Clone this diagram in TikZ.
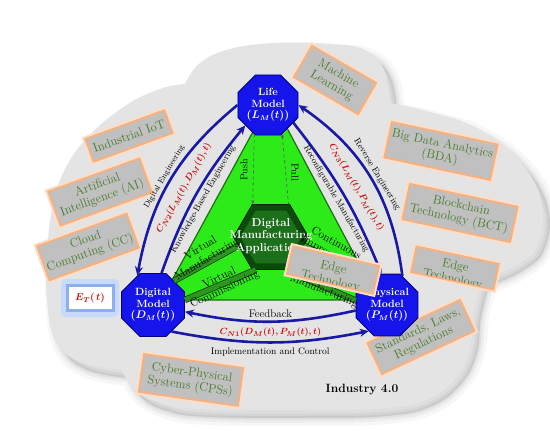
\documentclass[tikz,border=0pt]{standalone}
\usepackage{bm}
\usetikzlibrary{shapes.geometric,arrows.meta}
\definecolor{cloudgray}{RGB}{228,228,228}
\definecolor{boxgray}{RGB}{192,192,192}
\definecolor{glowA}{RGB}{252,222,200}
\definecolor{glowB}{RGB}{242,178,132}
\definecolor{tgreen}{RGB}{72,122,42}
\definecolor{octblue}{RGB}{20,20,235}
\definecolor{octdark}{RGB}{0,0,120}
\definecolor{arcblue}{RGB}{25,25,165}
\definecolor{trigreen}{RGB}{45,235,25}
\definecolor{triedge}{RGB}{30,110,20}
\definecolor{hexdark}{RGB}{10,75,10}
\definecolor{hexface}{RGB}{28,112,28}
\definecolor{stripecol}{RGB}{45,150,30}
\definecolor{redf}{RGB}{205,15,15}
\definecolor{etglowA}{RGB}{200,218,250}
\definecolor{etglowB}{RGB}{140,175,240}
\begin{document}
\begin{tikzpicture}[x=1pt,y=1pt,
  cloudpath/.style={insert path={
    plot[smooth,tension=0.7] coordinates {(122,-370) (80,-362) (55,-340) (47,-300) (47,-255) (50,-222)}
    -- plot[smooth,tension=0.7] coordinates {(50,-222) (60,-180) (85,-140) (125,-106) (160,-89) (185,-84)}
    -- plot[smooth,tension=0.7] coordinates {(185,-84) (200,-63) (230,-49) (275,-43) (330,-44) (365,-50) (384,-70) (390,-103)}
    -- plot[smooth,tension=0.7] coordinates {(390,-103) (430,-112) (475,-127) (517,-158) (541,-200) (538,-240) (517,-262) (482,-278)}
    -- plot[smooth,tension=0.7] coordinates {(482,-278) (474,-310) (470,-345) (455,-375) (425,-398) (380,-408) (300,-410) (200,-409) (160,-403) (135,-390) (122,-370)}
    -- cycle}},
  cbox/.style={fill=boxgray, draw=glowB, line width=2pt, preaction={draw=glowA, line width=6pt},
    text=tgreen, align=center, font=\fontsize{12.5}{13.5}\selectfont, inner sep=2pt},
  oct/.style={regular polygon, regular polygon sides=8, minimum size=58pt, fill=octblue,
    draw=octdark, line width=0.8pt, text=white, font=\bfseries\fontsize{10.5}{11.5}\selectfont,
    align=center, inner sep=0pt},
  octback/.style={regular polygon, regular polygon sides=8, minimum size=58pt, fill=octdark, inner sep=0pt},
  barc/.style={draw=arcblue, line width=2.6pt, -{Stealth[length=9pt,width=8pt]}},
  arclab/.style={font=\fontsize{9}{10}\selectfont, inner sep=0pt},
  redlab/.style={text=redf, font=\fontsize{9.5}{10}\selectfont, inner sep=0pt},
  stripeline/.style={draw=black!55!triedge, line width=0.7pt, double=stripecol, double distance=5pt},
  striplab/.style={font=\fontsize{11.5}{12.5}\selectfont, align=center, inner sep=0pt},
  pushline/.style={dashed, draw=black!65, line width=0.7pt},
]
\useasboundingbox (0,0) rectangle (550,-431);
% shadow
\begin{scope}[shift={(7,-8)}]
  \fill[black, opacity=0.10, cloudpath];
  \draw[black, opacity=0.03, line width=16pt, cloudpath];
  \draw[black, opacity=0.04, line width=9pt, cloudpath];
  \draw[black, opacity=0.05, line width=4pt, cloudpath];
\end{scope}
\fill[cloudgray, cloudpath];

% cloud boxes
\node[cbox, rotate=20, minimum width=84pt, minimum height=24pt] (iiot) at (129,-136) {Industrial IoT};
\node[cbox, rotate=20, minimum width=97pt, minimum height=36pt] (ai) at (100,-192) {Artificial\\Intelligence (AI)};
\node[cbox, rotate=20, minimum width=95pt, minimum height=36pt] (cc) at (88,-247) {Cloud\\Computing (CC)};
\node[cbox, rotate=-8, minimum width=100pt, minimum height=38pt] (cps) at (191,-380) {Cyber-Physical\\Systems (CPSs)};
\node[cbox, rotate=-30, minimum width=74pt, minimum height=36pt] (ml) at (335,-80) {Machine\\Learning};
\node[cbox, rotate=-12, minimum width=108pt, minimum height=36pt] (bda) at (441,-151) {Big Data Analytics\\(BDA)};
\node[cbox, rotate=-12, minimum width=110pt, minimum height=36pt] (bct) at (460,-213) {Blockchain\\Technology (BCT)};
\node[cbox, rotate=25, minimum width=102pt, minimum height=34pt] (slr) at (421,-337) {Standards, Laws,\\Regulations};
\begin{scope}[shift={(455,-268)}, rotate=-12, transform shape]
  \node[cbox, minimum width=84pt, minimum height=26pt] (edgeout) at (0,0) {};
  \begin{scope}
    \clip (-41,-12) rectangle (41,12);
    \node[text=tgreen, align=center, font=\fontsize{12.5}{13.5}\selectfont] (edgeouttxt) at (0,-5) {Edge\\Technology};
  \end{scope}
\end{scope}

% E_T box
\node[fill=etglowA, rounded corners=5pt, minimum width=58pt, minimum height=38pt] (etglow) at (90,-298) {};
\node[fill=white, draw=etglowB, line width=3pt, minimum width=46pt, minimum height=25pt, text=redf,
  font=\fontsize{10}{11}\selectfont] (et) at (90,-298) {$\bm{E_T(\,t)}$};

\node[font=\bfseries\fontsize{12}{13}\selectfont] (ind) at (362,-390) {Industry 4.0};

% green triangle
\fill[trigreen, draw=triedge, line width=1.2pt] (255,-128) -- (287,-128) -- (370,-284) -- (356,-300) -- (184,-300) -- (170,-284) -- cycle;

% hexagon
\node[regular polygon, regular polygon sides=6, minimum size=75pt, fill=hexdark, draw=black!60!hexdark, line width=0.8pt, inner sep=0pt] (dma) at (271,-237) {};
\node[regular polygon, regular polygon sides=6, minimum size=61pt, fill=hexface, inner sep=0pt] (dmaface) at (271,-237) {};

% octagons
\node[octback] (lifeb) at (270,-108) {};
\node[oct] (life) at (268,-105) {Life\\Model\\$\bm{(L_M(t))}$};
\node[octback] (digb) at (155,-308) {};
\node[oct] (dig) at (153,-305) {Digital\\Model\\$\bm{(D_M(t))}$};
\node[octback] (phyb) at (389,-308) {};
\node[oct] (phy) at (387,-305) {Physical\\Model\\$\bm{(P_M(t))}$};

% stripes
\draw[stripeline] (dig.49) -- (dma.195);
\draw[stripeline] (dig.9) -- (dma.245);
\draw[stripeline] (dma.345) -- (phy.120);
\draw[stripeline] (dma.294) -- (phy.172);

\node[font=\bfseries\fontsize{11.5}{12.5}\selectfont, text=white, align=center] (dmatxt) at (271,-236) {Digital\\Manufacturing\\Applications};

\node[striplab, rotate=31] (lvm) at (204,-254) {Virtual\\Manufacturing};
\node[striplab, rotate=25] (lvc) at (222,-284) {Virtual\\Commissioning};
\node[striplab, rotate=-30] (lci) at (333,-249) {Continuous\\Improvement};
\node[striplab, rotate=-22] (lman) at (324,-291) {Manufacturing};

% push / pull
\draw[pushline, -{Stealth[length=4pt]}] (life.245) -- (dma.119);
\draw[pushline, {Stealth[length=4pt]}-] (life.296) -- (dma.62);
\node[font=\fontsize{10}{11}\selectfont, rotate=90, inner sep=0pt] (lpush) at (244,-170) {Push};
\node[font=\fontsize{10}{11}\selectfont, rotate=-90, inner sep=0pt] (lpull) at (295,-172) {Pull};

% arcs with labels
\draw[barc] (life.180) to[bend right=20]
  node[pos=0.5, sloped, above=2pt, arclab, font=\fontsize{8}{9}\selectfont] (lde) {Digital Engineering} (dig.118);
\draw[barc] (dig.75) to[bend left=10]
  node[pos=0.5, sloped, above=8pt, redlab] (lcn2) {$\bm{C_{N2}(L_M(t), D_M(t), t)}$}
  node[pos=0.5, sloped, below=3pt, arclab] (lkbe) {Knowledge-Based Engineering} (life.222);
\draw[barc] (phy.62) to[bend right=24]
  node[pos=0.5, sloped, above=2pt, arclab] (lre) {Reverse Engineering} (life.0);
\draw[barc] (life.-35) to[bend left=8]
  node[pos=0.5, sloped, above=9pt, redlab] (lcn3) {$\bm{C_{N3}(L_M(t), P_M(t), t)}$}
  node[pos=0.5, sloped, below=3pt, arclab] (lrm) {Reconfigurable Manufacturing} (phy.100);
\draw[barc] (phy.190) to[bend left=12]
  node[pos=0.5, above=3pt, font=\fontsize{11}{12}\selectfont, inner sep=0pt] (lfb) {Feedback}
  node[pos=0.5, below=5pt, redlab] (lcn1) {$\bm{C_{N1}(D_M(t), P_M(t), t)}$} (dig.-12);
\draw[barc] (dig.-55) to[bend right=11]
  node[pos=0.5, below=4pt, arclab, font=\fontsize{9.5}{10}\selectfont] (lic) {Implementation and Control} (phy.235);

% inner edge technology box
\begin{scope}[shift={(333,-270)}, rotate=-13, transform shape]
  \node[cbox, minimum width=88pt, minimum height=28pt] (edgein) at (0,0) {};
  \begin{scope}
    \clip (-43,-13) rectangle (43,13);
    \node[text=tgreen, align=center, font=\fontsize{12.5}{14}\selectfont] (edgeintxt) at (0,-5) {Edge\\Technology};
  \end{scope}
\end{scope}
\end{tikzpicture}
\end{document}
